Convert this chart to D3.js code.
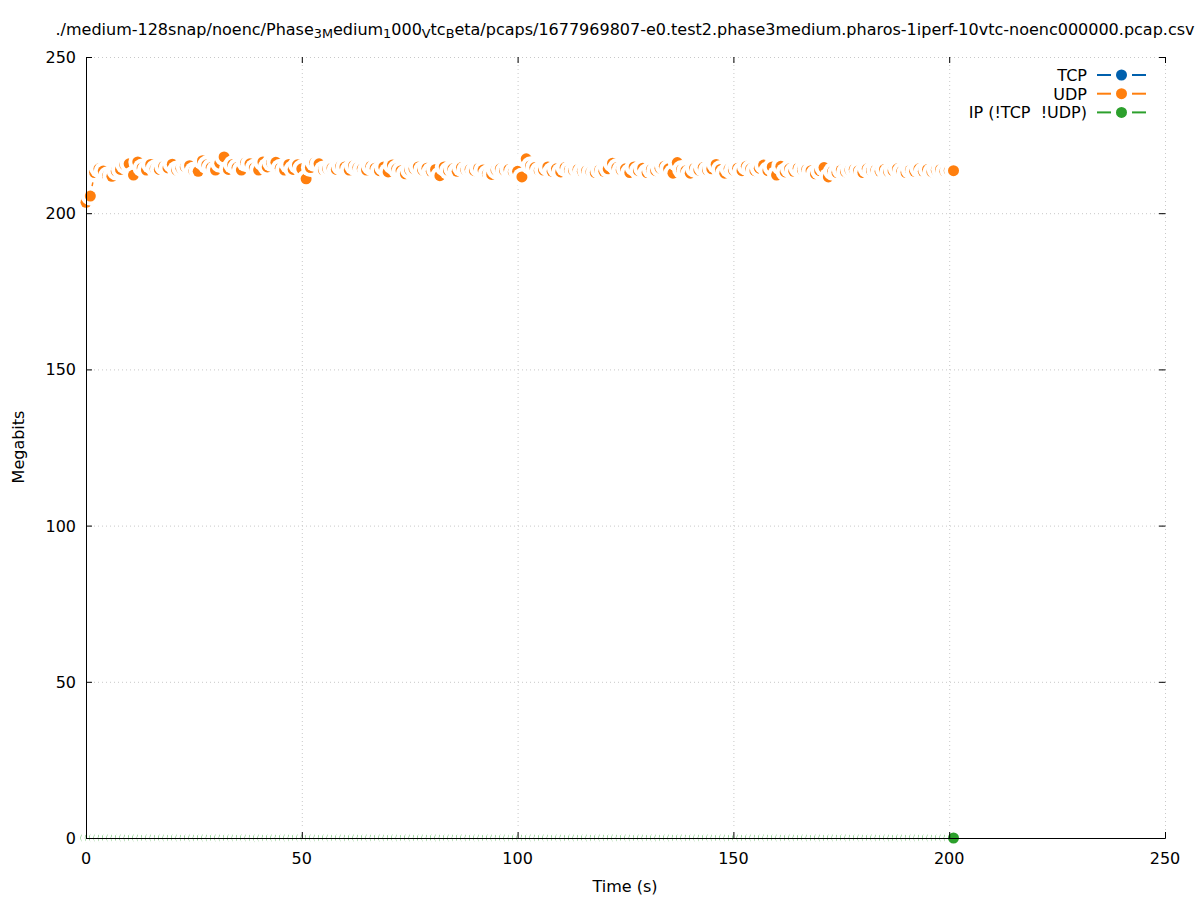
<!DOCTYPE html>
<html>
<head>
<meta charset="utf-8">
<script src="https://cdn.jsdelivr.net/npm/d3@7"></script>
<style>
body { margin: 0; background: #fff; }
svg { font-family: "DejaVu Sans", sans-serif; }
text { white-space: pre; }
</style>
</head>
<body>
<svg id="chart" width="1197" height="900"></svg>
<script>

// UDP throughput per second (Mbit), t = 0 .. 201 s
var udpMbits = [
    203.5, 205.5, 213.0, 214.2, 213.5, 212.0, 211.8, 213.5, 214.0, 215.5,
    215.8, 212.2, 216.4, 214.5, 213.8, 215.6, 214.2, 214.0, 215.0, 214.5,
    215.7, 213.8, 214.4, 214.8, 215.2, 213.5, 213.4, 216.8, 215.5, 214.6,
    213.8, 216.0, 218.0, 214.0, 215.6, 214.6, 213.8, 216.2, 215.8, 214.5,
    213.8, 216.4, 214.8, 216.2, 216.3, 214.4, 213.8, 215.6, 214.0, 215.5,
    214.2, 211.0, 214.6, 216.2, 215.8, 213.8, 214.2, 214.5, 214.0, 215.0,
    214.8, 213.8, 215.2, 214.6, 214.2, 213.8, 215.0, 214.4, 213.6, 214.8,
    213.2, 215.4, 214.2, 213.6, 212.6, 213.8, 214.2, 214.8, 213.8, 214.4,
    213.4, 214.0, 212.0, 214.8, 213.6, 214.2, 213.4, 214.6, 213.8, 214.0,
    213.6, 214.4, 213.8, 212.6, 212.4, 213.8, 214.2, 213.6, 214.0, 213.2,
    213.4, 211.6, 217.4, 215.2, 214.6, 213.6, 213.8, 214.8, 213.4, 214.2,
    213.2, 214.6, 213.8, 213.6, 214.0, 213.4, 213.6, 213.2, 213.0, 213.8,
    213.4, 214.2, 216.0, 214.6, 213.8, 214.2, 213.0, 214.8, 213.6, 214.4,
    213.0, 214.0, 213.6, 214.4, 215.0, 214.2, 212.8, 216.2, 214.0, 213.6,
    212.8, 214.4, 213.8, 214.6, 213.8, 214.2, 215.6, 214.0, 212.8, 214.2,
    213.8, 214.4, 213.6, 215.0, 214.2, 213.6, 214.4, 215.4, 213.6, 214.8,
    212.2, 215.0, 213.2, 214.2, 213.4, 214.4, 213.8, 214.0, 213.6, 212.6,
    213.6, 214.6, 211.6, 213.4, 213.0, 213.8, 213.2, 213.8, 214.0, 213.6,
    213.0, 214.2, 213.6, 213.8, 213.4, 214.0, 213.2, 213.6, 214.2, 213.4,
    213.0, 213.8, 213.4, 214.2, 213.4, 214.0, 213.2, 213.8, 214.0, 213.4,
    213.6, 213.6
];

// IP traffic that is neither TCP nor UDP: flat zero the whole run
var ipMbits = [
    0, 0, 0, 0, 0, 0, 0, 0, 0, 0, 0, 0, 0, 0, 0, 0, 0, 0, 0, 0,
    0, 0, 0, 0, 0, 0, 0, 0, 0, 0, 0, 0, 0, 0, 0, 0, 0, 0, 0, 0,
    0, 0, 0, 0, 0, 0, 0, 0, 0, 0, 0, 0, 0, 0, 0, 0, 0, 0, 0, 0,
    0, 0, 0, 0, 0, 0, 0, 0, 0, 0, 0, 0, 0, 0, 0, 0, 0, 0, 0, 0,
    0, 0, 0, 0, 0, 0, 0, 0, 0, 0, 0, 0, 0, 0, 0, 0, 0, 0, 0, 0,
    0, 0, 0, 0, 0, 0, 0, 0, 0, 0, 0, 0, 0, 0, 0, 0, 0, 0, 0, 0,
    0, 0, 0, 0, 0, 0, 0, 0, 0, 0, 0, 0, 0, 0, 0, 0, 0, 0, 0, 0,
    0, 0, 0, 0, 0, 0, 0, 0, 0, 0, 0, 0, 0, 0, 0, 0, 0, 0, 0, 0,
    0, 0, 0, 0, 0, 0, 0, 0, 0, 0, 0, 0, 0, 0, 0, 0, 0, 0, 0, 0,
    0, 0, 0, 0, 0, 0, 0, 0, 0, 0, 0, 0, 0, 0, 0, 0, 0, 0, 0, 0,
    0, 0
];

// no TCP samples in this capture
var tcpMbits = [];

var xTicks = [0, 50, 100, 150, 200, 250];
var yTicks = [0, 50, 100, 150, 200, 250];

var seriesNames = ['TCP', 'UDP', 'IP (!TCP  !UDP)'];
var seriesColors = ['#0060ad', '#ff7f0e', '#2ca02c'];
var seriesData = [tcpMbits, udpMbits, ipMbits];

var svg = d3.select('#chart');

var x = d3.scaleLinear().domain([0, 250]).range([86, 1165]);
var y = d3.scaleLinear().domain([0, 250]).range([838, 57]);

var R = 5.5,      // point radius
    HALO = 9.5,   // blanked area around each point
    GAP = 10;     // line gap around points

/* grid */
var grid = svg.append('g')
    .attr('stroke', '#c8c8c8')
    .attr('stroke-width', 1)
    .attr('stroke-dasharray', '1,3');

grid.selectAll('line.gx')
    .data(xTicks.filter(function(d) { return d > 0; }))
    .enter().append('line')
        .attr('class', 'gx')
        .attr('x1', function(d) { return x(d) + 0.5; })
        .attr('x2', function(d) { return x(d) + 0.5; })
        .attr('y1', y(0))
        .attr('y2', y(250));

grid.selectAll('line.gy')
    .data(yTicks.filter(function(d) { return d > 0; }))
    .enter().append('line')
        .attr('class', 'gy')
        .attr('x1', x(0))
        .attr('x2', x(250))
        .attr('y1', function(d) { return y(d) + 0.5; })
        .attr('y2', function(d) { return y(d) + 0.5; });

/* data: linespoints with gaps around points (gnuplot pointinterval -1 look) */
function pts(vals) {
    return vals.map(function(v, i) { return [x(i), y(v)]; });
}

function segments(p) {
    var segs = [];
    for (var i = 0; i < p.length - 1; i++) {
        var dx = p[i+1][0] - p[i][0], dy = p[i+1][1] - p[i][1];
        var len = Math.sqrt(dx * dx + dy * dy);
        if (len <= 2 * GAP) continue;
        var ux = dx / len, uy = dy / len;
        segs.push([p[i][0] + ux * GAP, p[i][1] + uy * GAP,
                   p[i+1][0] - ux * GAP, p[i+1][1] - uy * GAP]);
    }
    return segs;
}

seriesData.forEach(function(vals, k) {
    var p = pts(vals);
    var g = svg.append('g').attr('class', 'series');

    g.selectAll('line')
        .data(segments(p))
        .enter().append('line')
            .attr('x1', function(d) { return d[0]; })
            .attr('y1', function(d) { return d[1]; })
            .attr('x2', function(d) { return d[2]; })
            .attr('y2', function(d) { return d[3]; })
            .attr('stroke', seriesColors[k])
            .attr('stroke-width', 1.5);

    var pg = g.selectAll('g.pt')
        .data(p)
        .enter().append('g')
            .attr('class', 'pt');
    pg.append('circle')
        .attr('cx', function(d) { return d[0]; })
        .attr('cy', function(d) { return d[1]; })
        .attr('r', HALO)
        .attr('fill', '#fff');
    pg.append('circle')
        .attr('cx', function(d) { return d[0]; })
        .attr('cy', function(d) { return d[1]; })
        .attr('r', R)
        .attr('fill', seriesColors[k]);
});

/* axes: left + bottom border, ticks mirrored inward on all four sides */
var axes = svg.append('g').attr('stroke', '#000').attr('stroke-width', 1);

axes.append('line')
    .attr('x1', x(0) + 0.5).attr('x2', x(0) + 0.5)
    .attr('y1', y(250)).attr('y2', y(0) + 0.5);
axes.append('line')
    .attr('x1', x(0)).attr('x2', x(250) + 0.5)
    .attr('y1', y(0) + 0.5).attr('y2', y(0) + 0.5);

axes.selectAll('line.tx')
    .data(xTicks)
    .enter().append('line')
        .attr('x1', function(d) { return x(d) + 0.5; })
        .attr('x2', function(d) { return x(d) + 0.5; })
        .attr('y1', y(0))
        .attr('y2', y(0) - 6);
axes.selectAll('line.txt')
    .data(xTicks)
    .enter().append('line')
        .attr('x1', function(d) { return x(d) + 0.5; })
        .attr('x2', function(d) { return x(d) + 0.5; })
        .attr('y1', y(250))
        .attr('y2', y(250) + 6);
axes.selectAll('line.ty')
    .data(yTicks)
    .enter().append('line')
        .attr('x1', x(0))
        .attr('x2', x(0) + 6)
        .attr('y1', function(d) { return y(d) + 0.5; })
        .attr('y2', function(d) { return y(d) + 0.5; });
axes.selectAll('line.tyr')
    .data(yTicks)
    .enter().append('line')
        .attr('x1', x(250) + 0.5)
        .attr('x2', x(250) - 6)
        .attr('y1', function(d) { return y(d) + 0.5; })
        .attr('y2', function(d) { return y(d) + 0.5; });

/* tick labels */
svg.append('g').selectAll('text')
    .data(xTicks)
    .enter().append('text')
        .attr('x', function(d) { return x(d); })
        .attr('y', 864)
        .attr('text-anchor', 'middle')
        .attr('font-size', 16)
        .text(function(d) { return d; });

svg.append('g').selectAll('text')
    .data(yTicks)
    .enter().append('text')
        .attr('x', 76)
        .attr('y', function(d) { return y(d) + 6; })
        .attr('text-anchor', 'end')
        .attr('font-size', 16)
        .text(function(d) { return d; });

/* axis titles */
svg.append('text')
    .attr('x', 625)
    .attr('y', 892)
    .attr('text-anchor', 'middle')
    .attr('font-size', 16)
    .text('Time (s)');

svg.append('text')
    .attr('transform', 'translate(24,447) rotate(-90)')
    .attr('text-anchor', 'middle')
    .attr('font-size', 16)
    .text('Megabits');

/* title, with gnuplot enhanced-text subscripts */
var titleParts = [
    ['./medium-128snap/noenc/Phase', 0], ['3M', 1], ['edium', 0], ['1', 1],
    ['000', 0], ['V', 1], ['tc', 0], ['B', 1],
    ['eta/pcaps/1677969807-e0.test2.phase3medium.pharos-1iperf-10vtc-noenc000000.pcap.csv', 0]
];
var title = svg.append('text')
    .attr('x', 625)
    .attr('y', 35)
    .attr('text-anchor', 'middle')
    .attr('font-size', 16);
titleParts.forEach(function(tp) {
    title.append('tspan')
        .attr('font-size', tp[1] ? 12.8 : 16)
        .attr('baseline-shift', tp[1] ? '-25%' : null)
        .text(tp[0]);
});

/* legend */
var legend = svg.append('g').selectAll('g')
    .data(seriesNames)
    .enter().append('g')
        .attr('transform', function(d, i) { return 'translate(0,' + (75 + i * 18.7) + ')'; });

legend.append('text')
    .attr('x', 1087)
    .attr('y', 6)
    .attr('text-anchor', 'end')
    .attr('font-size', 16)
    .text(function(d) { return d; });
legend.append('line')
    .attr('x1', 1097).attr('x2', 1111)
    .attr('y1', 0).attr('y2', 0)
    .attr('stroke', function(d, i) { return seriesColors[i]; })
    .attr('stroke-width', 2);
legend.append('line')
    .attr('x1', 1132).attr('x2', 1146)
    .attr('y1', 0).attr('y2', 0)
    .attr('stroke', function(d, i) { return seriesColors[i]; })
    .attr('stroke-width', 2);
legend.append('circle')
    .attr('cx', 1121.5)
    .attr('cy', 0)
    .attr('r', R)
    .attr('fill', function(d, i) { return seriesColors[i]; });

</script>
</body>
</html>
